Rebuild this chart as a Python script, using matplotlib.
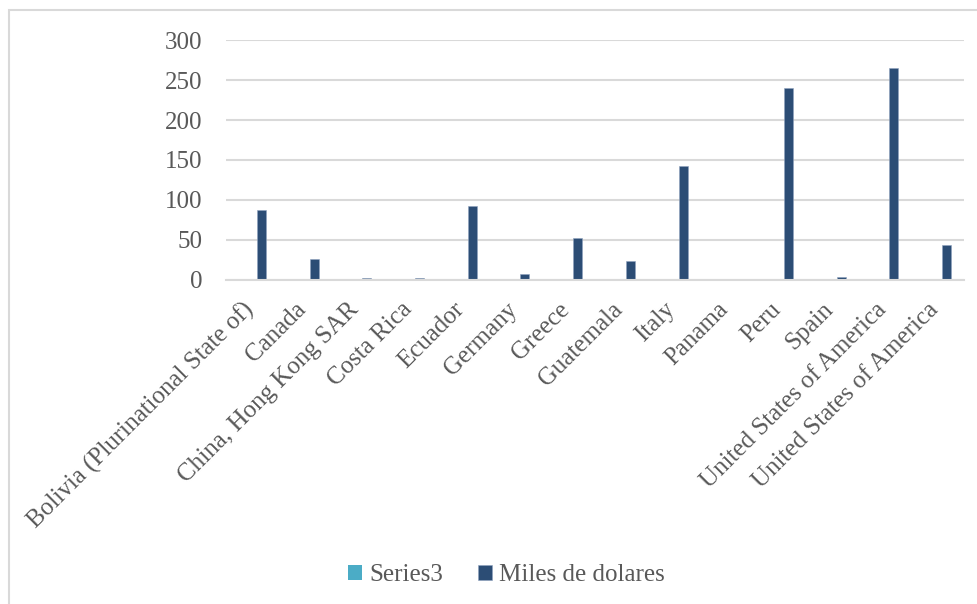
import numpy as np
import matplotlib
matplotlib.use("Agg")
import matplotlib.pyplot as plt
from matplotlib.patches import Rectangle

# -----------------------------
# Data
# -----------------------------
countries = [
    "Bolivia (Plurinational State of)", "Canada", "China, Hong Kong SAR",
    "Costa Rica", "Ecuador", "Germany", "Greece", "Guatemala", "Italy",
    "Panama", "Peru", "Spain", "United States of America",
    "United States of America",
]
series3 = [0, 0, 0, 0, 0, 0, 0, 0, 0, 0, 0, 0, 0, 0]
miles = [87, 26, 2, 2, 92, 7, 52.5, 23, 143, 0, 240.5, 4, 265, 43.5]
yticks = [0, 50, 100, 150, 200, 250, 300]

GRID = "#d9d9d9"
TEXT = "#595959"
FONT = "Liberation Serif"
FS = 18

plt.rcParams["font.family"] = FONT

# -----------------------------
# Plot
# -----------------------------
fig = plt.figure(figsize=(9.78, 6.04), dpi=100)
ax = fig.add_axes([226 / 978, 1 - 279.7 / 604, (964 - 226) / 978, (279.7 - 40.3) / 604])

x = np.arange(len(countries))
w = 0.171
ax.bar(x, series3, width=w, color="#4bacc6", label="Series3")
ax.bar(x + w, miles, width=w, color="#2c4d75", edgecolor="#8fa3bf",
       linewidth=0.4, label="Miles de dolares")

ax.set_xlim(-0.5, len(countries) - 0.5)
ax.set_ylim(0, 300)
ax.set_yticks(yticks)
ax.set_yticklabels([str(v) for v in yticks])
ax.yaxis.grid(True, color=GRID, linewidth=1.5)
ax.set_axisbelow(True)

for side in ["left", "right", "top"]:
    ax.spines[side].set_visible(False)
ax.spines["bottom"].set_color(GRID)
ax.spines["bottom"].set_linewidth(1.5)

ax.tick_params(axis="y", length=0, pad=17, labelsize=FS, labelcolor=TEXT)
ax.tick_params(axis="x", length=0, pad=19, labelsize=FS, labelcolor=TEXT)
ax.set_xticks(x - 0.04)
ax.set_xticklabels(countries, rotation=45, ha="right", va="center",
                   rotation_mode="anchor")

fig.legend(loc="center", bbox_to_anchor=(0.518, 1 - 575 / 604), ncol=2,
           frameon=False, fontsize=FS, labelcolor=TEXT, handlelength=0.55,
           handleheight=0.55, handletextpad=0.3, columnspacing=1.4)

# chart area border
fig.patches.append(Rectangle((8.5 / 978, -0.1), 1.2, 1 - 10.5 / 604 + 0.1,
                             transform=fig.transFigure, fill=False,
                             edgecolor=GRID, linewidth=1.5))

fig.savefig("out.png", dpi=100)
